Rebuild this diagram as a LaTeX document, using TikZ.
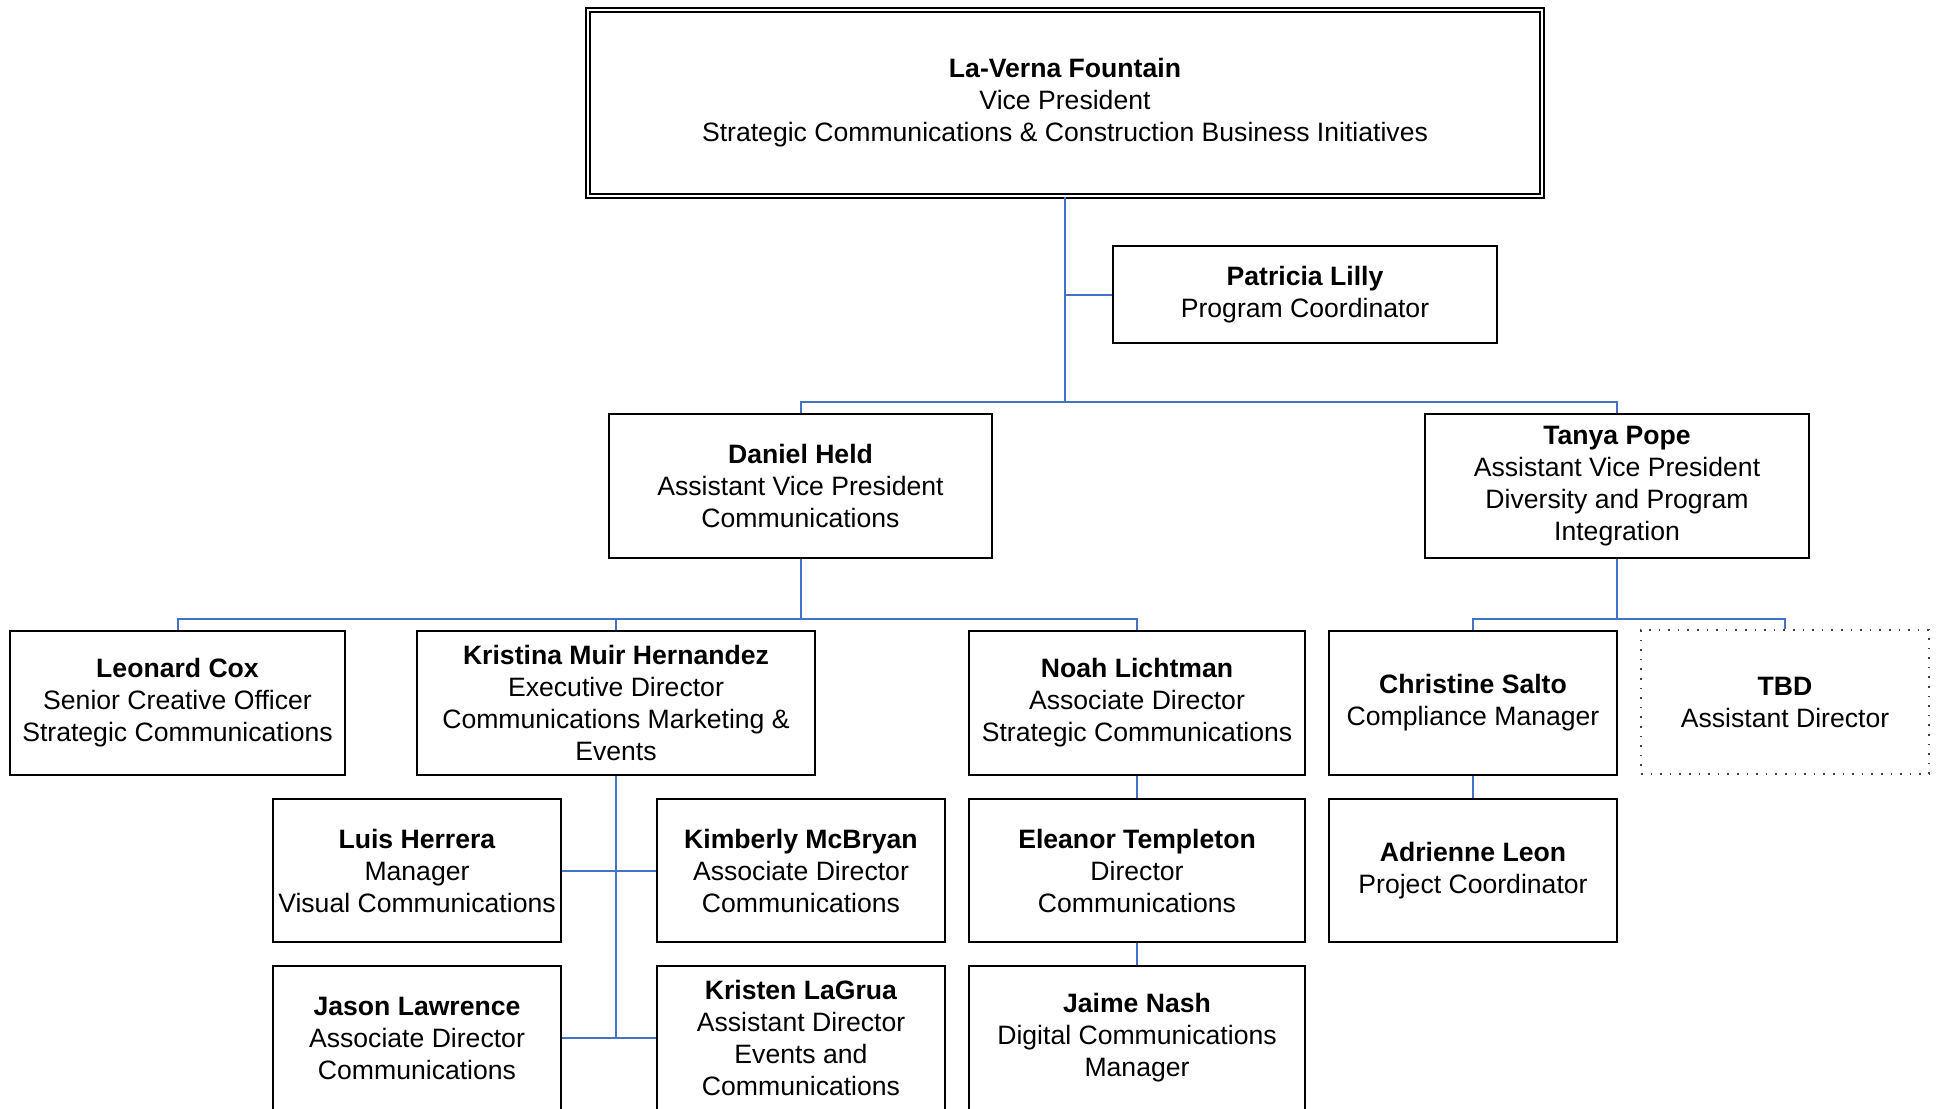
\documentclass[tikz,border=0pt]{standalone}
\usepackage{xcolor}
\usepackage{fontspec}
\setmainfont{Liberation Sans}
\usepackage{tikz}
\definecolor{linkblue}{HTML}{4472C4}
\definecolor{boxline}{HTML}{000000}
\definecolor{vacant}{HTML}{404040}
\newcommand\orgfont{\fontsize{26.6pt}{32pt}\selectfont}

\begin{document}
\begin{tikzpicture}[x=1pt, y=-1pt,
  every node/.style={font=\orgfont, align=center},
  person/.style={draw=boxline, line width=1.8pt, rectangle, inner sep=1pt,
    minimum height=144pt},
  vacancy/.style={person, draw=vacant, line width=1.6pt, dash pattern=on 1.6pt off 8pt},
  link/.style={draw=linkblue, line width=2pt}]
  \useasboundingbox (0,0) rectangle (1940,1108);
  \clip (0,0) rectangle (1940,1108);

  % top level
  \node[person, double, double distance=2.6pt, minimum width=954pt, minimum height=186pt] (vp) at (1065,103)
    {\textbf{La-Verna Fountain}\\Vice President\\Strategic Communications \& Construction Business Initiatives};
  \node[person, minimum width=384pt, minimum height=97pt] (plilly) at (1305,294.5)
    {\textbf{Patricia Lilly}\\Program Coordinator};

  % assistant vice presidents
  \node[person, minimum width=383pt] (dheld) at (800.5,486)
    {\textbf{Daniel Held}\\Assistant Vice President\\Communications};
  \node[person, minimum width=384pt] (tpope) at (1617,486)
    {\textbf{Tanya Pope}\\Assistant Vice President\\Diversity and Program\\Integration};

  % third row
  \node[person, minimum width=335pt] (lcox) at (177.5,703)
    {\textbf{Leonard Cox}\\Senior Creative Officer\\Strategic Communications};
  \node[person, minimum width=398pt] (kmuir) at (616,703)
    {\textbf{Kristina Muir Hernandez}\\Executive Director\\Communications Marketing \&\\Events};
  \node[person, minimum width=336pt] (nlicht) at (1137,703)
    {\textbf{Noah Lichtman}\\Associate Director\\Strategic Communications};
  \node[person, minimum width=288pt] (csalto) at (1473,703)
    {\textbf{Christine Salto}\\Compliance Manager};
  \node[vacancy, minimum width=288pt] (tbd) at (1785,702)
    {\textbf{TBD}\\Assistant Director};

  % fourth row
  \node[person, minimum width=288pt, minimum height=143pt] (lherrera) at (417,870.5)
    {\textbf{Luis Herrera}\\Manager\\Visual Communications};
  \node[person, minimum width=288pt, minimum height=143pt] (kmcbryan) at (801,870.5)
    {\textbf{Kimberly McBryan}\\Associate Director\\Communications};
  \node[person, minimum width=336pt, minimum height=143pt] (etempl) at (1137,870.5)
    {\textbf{Eleanor Templeton}\\Director\\Communications};
  \node[person, minimum width=288pt, minimum height=143pt] (aleon) at (1473,870.5)
    {\textbf{Adrienne Leon}\\Project Coordinator};

  % fifth row
  \node[person, minimum width=288pt] (jlawr) at (417,1038)
    {\textbf{Jason Lawrence}\\Associate Director\\Communications};
  \node[person, minimum width=288pt] (klagrua) at (801,1038)
    {\textbf{Kristen LaGrua}\\Assistant Director\\Events and\\Communications};
  \node[person, minimum width=336pt] (jnash) at (1137,1038)
    {\textbf{Jaime Nash}\\Digital Communications\\Manager};

  % connectors
  \coordinate (hubvp) at (1065,402);
  \coordinate (hubdh) at (800.5,619);
  \coordinate (hubtp) at (1617,619);
  \coordinate (hubkm) at (616,1038);

  \draw[link] (vp.south) -- (hubvp);
  \draw[link] (vp.south |- plilly.west) -- (plilly.west);
  \draw[link] (dheld.north) |- (hubvp) -| (tpope.north);

  \draw[link] (dheld.south) -- (hubdh);
  \draw[link] (lcox.north) |- (hubdh) -| (nlicht.north);
  \draw[link] (kmuir.north) -- (kmuir.north |- hubdh);

  \draw[link] (kmuir.south) -- (hubkm);
  \draw[link] (lherrera.east) -- (kmcbryan.west);
  \draw[link] (jlawr.east) -- (klagrua.west);

  \draw[link] (nlicht.south) -- (etempl.north);
  \draw[link] (etempl.south) -- (jnash.north);

  \draw[link] (tpope.south) -- (hubtp);
  \draw[link] (csalto.north) |- (hubtp) -| (tbd.north);
  \draw[link] (csalto.south) -- (aleon.north);
\end{tikzpicture}
\end{document}
